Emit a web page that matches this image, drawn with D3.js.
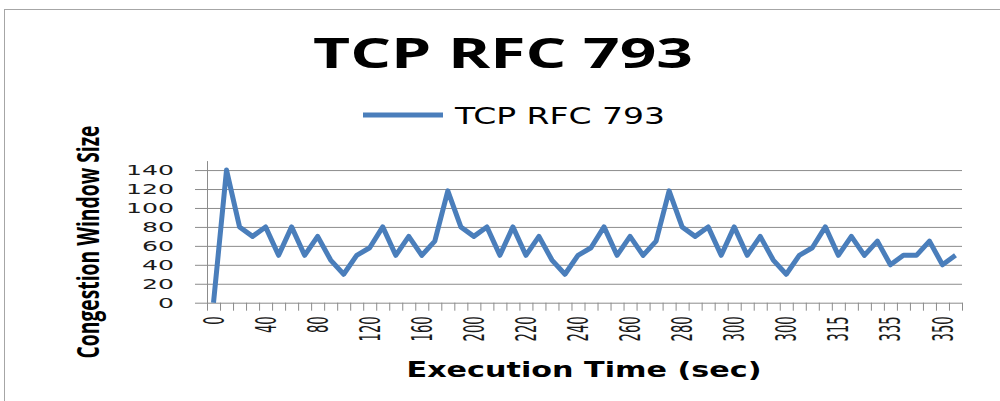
<!DOCTYPE html>
<html>
<head>
<meta charset="utf-8">
<script src="https://cdn.jsdelivr.net/npm/d3@7"></script>
<style>
  body { margin: 0; background: #fff; }
</style>
</head>
<body>
<svg id="chart" width="1000" height="401"></svg>
<script>
const seriesName = "TCP RFC 793"
const chartTitle = "TCP RFC 793"
const xTitle = "Execution Time (sec)"
const yTitle = "Congestion Window Size"

// congestion window per sample
const cwnd = [0, 140, 80, 70, 80, 50, 80, 50, 70, 45, 30, 50, 58, 80, 50, 70, 50, 65, 118, 80,
  70, 80, 50, 80, 50, 70, 45, 30, 50, 58, 80, 50, 70, 50, 65, 118, 80, 70, 80, 50,
  80, 50, 70, 45, 30, 50, 58, 80, 50, 70, 50, 65, 40, 50, 50, 65, 40, 50]

// only every 4th category gets a label
const xLabels = ["0", "40", "80", "120", "160", "200", "220", "240", "260", "280", "300", "300", "315", "335", "350"]
const labelEvery = 4
const yTicks = [0, 20, 40, 60, 80, 100, 120, 140]
const yMax = 150

const blue = "#4a7ebb"
const gridColor = "#8c8c8c"

const plot = { left: 207, right: 962, top: 160.6, bottom: 302.7 }

const svg = d3.select("#chart")

// outer frame
svg.append("rect")
  .attr("x", 4.5).attr("y", 9.5)
  .attr("width", 1000).attr("height", 400)
  .attr("fill", "none")
  .attr("stroke", "#a6a6a6")

const slots = cwnd.map((d, i) => i)

const x = d3.scaleBand()
  .domain(slots)
  .range([plot.left, plot.right])

// boundaries between categories, for the tick marks
const xEdges = d3.scaleLinear()
  .domain([0, cwnd.length])
  .range([plot.left, plot.right])

const y = d3.scaleLinear()
  .domain([0, yMax])
  .range([plot.bottom, plot.top])

// grid
const grid = svg.append("g")
  .attr("transform", "translate(" + plot.left + ",0)")
  .call(d3.axisLeft(y)
    .tickValues(yTicks.slice(1))
    .tickSize(-(plot.right - plot.left))
    .tickFormat("")
  )
grid.select(".domain").remove()
grid.selectAll(".tick line").attr("stroke", gridColor)

// y axis
const yAxis = svg.append("g")
  .attr("transform", "translate(" + plot.left + ",0)")
  .call(d3.axisLeft(y)
    .tickValues(yTicks)
    .tickSizeInner(12)
    .tickSizeOuter(0)
  )
yAxis.select(".domain").attr("stroke", gridColor)
yAxis.selectAll(".tick line").attr("stroke", gridColor)
yAxis.selectAll(".tick text")
  .attr("x", -33)
  .attr("fill", "#1a1a1a")
  .style("font", "14px 'DejaVu Sans'")
  .attr("textLength", d => String(d).length * 16)
  .attr("lengthAdjust", "spacingAndGlyphs")

// x axis line + tick marks
const xAxis = svg.append("g")
  .attr("transform", "translate(0," + plot.bottom + ")")
  .call(d3.axisBottom(xEdges)
    .tickValues(d3.range(cwnd.length + 1))
    .tickFormat("")
    .tickSizeInner(8)
    .tickSizeOuter(0)
  )
xAxis.select(".domain").attr("stroke", gridColor)
xAxis.selectAll(".tick line").attr("stroke", gridColor)

// x labels, rotated
const xLab = svg.append("g")
  .attr("transform", "translate(0," + plot.bottom + ")")
  .call(d3.axisBottom(x)
    .tickValues(slots.filter(i => i % labelEvery === 0))
    .tickFormat(i => xLabels[i / labelEvery])
    .tickSize(0)
  )
xLab.select(".domain").remove()
xLab.selectAll(".tick text")
  .attr("transform", "rotate(-90)")
  .attr("x", -13.8)
  .attr("y", 0)
  .attr("dy", "0.36em")
  .attr("text-anchor", "end")
  .attr("fill", "#1a1a1a")
  .style("font", "28px 'DejaVu Sans'")
  .attr("textLength", function () { return this.textContent.length * 8.3 })
  .attr("lengthAdjust", "spacingAndGlyphs")

// series
const line = d3.line()
  .x((d, i) => x(i) + x.bandwidth() / 2)
  .y(d => y(d))

svg.append("path")
  .datum(cwnd)
  .attr("d", line)
  .attr("fill", "none")
  .attr("stroke", blue)
  .attr("stroke-width", 5)
  .attr("stroke-linejoin", "round")

// title
svg.append("text")
  .attr("x", 503)
  .attr("y", 68)
  .attr("text-anchor", "middle")
  .style("font", "bold 42px 'Open Sans'")
  .attr("fill", "#000")
  .attr("textLength", 380)
  .attr("lengthAdjust", "spacingAndGlyphs")
  .text(chartTitle)

// legend
svg.append("line")
  .attr("x1", 363).attr("x2", 443)
  .attr("y1", 115).attr("y2", 115)
  .attr("stroke", blue)
  .attr("stroke-width", 5)

svg.append("text")
  .attr("x", 455)
  .attr("y", 124)
  .style("font", "23px 'DejaVu Sans'")
  .attr("fill", "#000")
  .attr("textLength", 210)
  .attr("lengthAdjust", "spacingAndGlyphs")
  .text(seriesName)

// axis titles
svg.append("text")
  .attr("x", 584)
  .attr("y", 377)
  .attr("text-anchor", "middle")
  .style("font", "bold 22px 'DejaVu Sans'")
  .attr("fill", "#000")
  .attr("textLength", 355)
  .attr("lengthAdjust", "spacingAndGlyphs")
  .text(xTitle)

svg.append("text")
  .attr("transform", "translate(99,242) rotate(-90)")
  .attr("text-anchor", "middle")
  .style("font", "bold 30px 'Open Sans'")
  .attr("fill", "#000")
  .attr("textLength", 233)
  .attr("lengthAdjust", "spacingAndGlyphs")
  .text(yTitle)
</script>
</body>
</html>
